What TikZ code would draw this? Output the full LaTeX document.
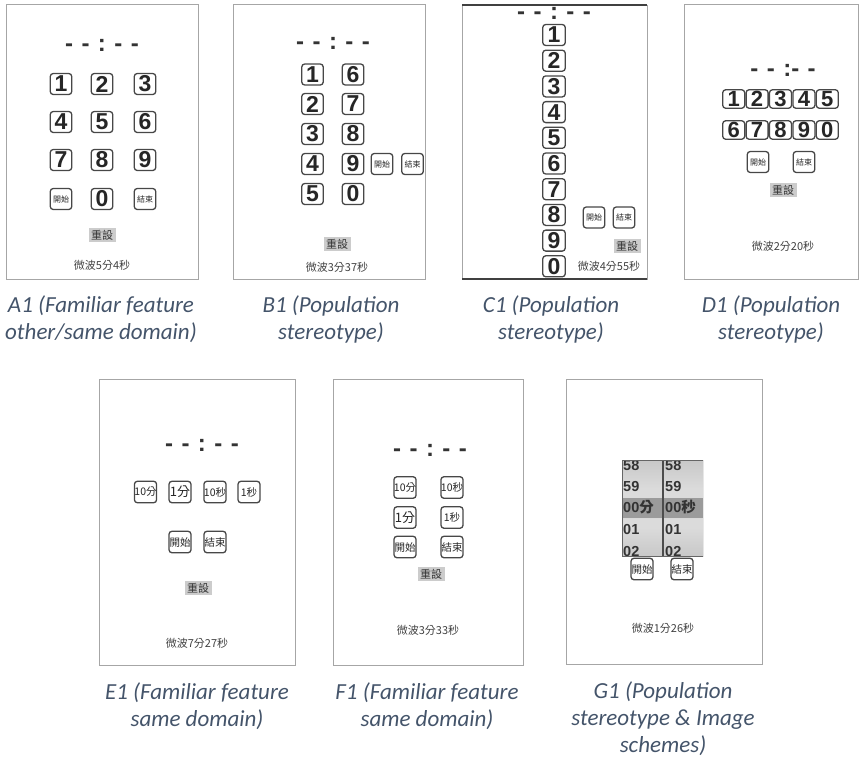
\documentclass[tikz,border=0pt]{standalone}
\usepackage{fontspec}
\setmainfont{Carlito}
\newfontfamily\keyfont{Liberation Sans}
\newfontfamily\cjkfont{Noto Sans CJK TC}
\usetikzlibrary{positioning}
\definecolor{capslate}{HTML}{44546A}
\definecolor{keyedge}{HTML}{474747}
\definecolor{framegray}{HTML}{A6A6A6}
\newcommand\clockgap{\hspace{8.5pt}}
\pgfdeclareverticalshading{drumshade}{100bp}{color(0bp)=(black!78); color(12bp)=(black!28); color(40bp)=(black!14); color(60bp)=(black!14); color(88bp)=(black!28); color(100bp)=(black!78)}

\begin{document}
\begin{tikzpicture}[x=1pt, y=-1pt, panelframe/.style={draw=framegray, line width=0.8pt}, numkey/.style={draw=keyedge, fill=white, line width=1.3pt, rounded corners=3pt, minimum width=21.5pt, minimum height=21pt, inner sep=0pt, text=black!85, font=\keyfont\bfseries\fontsize{23}{23}\selectfont}, slimkey/.style={numkey, minimum width=22pt, minimum height=18.5pt, font=\keyfont\bfseries\fontsize{22}{22}\selectfont}, cjkkey/.style={numkey, font=\cjkfont\fontsize{8}{8}\selectfont}, timekey/.style={numkey, minimum width=22pt, minimum height=21.5pt, font=\cjkfont\fontsize{10.5}{10.5}\selectfont}, resetbox/.style={fill=black!20, inner xsep=2.5pt, inner ysep=2pt, text=black!80, font=\cjkfont\fontsize{11}{11}\selectfont}, statustext/.style={text=black!75, font=\cjkfont\fontsize{11}{11}\selectfont}, clockface/.style={text=black!80, font=\keyfont\bfseries\fontsize{24}{24}\selectfont}, drumtext/.style={anchor=west, inner sep=1pt, text=black!80, font=\keyfont\bfseries\fontsize{14.5}{14.5}\selectfont}, captiontext/.style={align=center, text=capslate, font=\itshape\fontsize{23}{27}\selectfont}]
\useasboundingbox (0,0) rectangle (866,761);
\draw[panelframe] (6,4) rectangle (198,279);
\draw[panelframe] (233,4) rectangle (425,279);
\draw[panelframe] (462,5) rectangle (647,279);\draw[black!75, line width=1.5pt] (462,5) -- (647,5) (462,279) -- (647,279);
\draw[panelframe] (684,4) rectangle (858,279);
\draw[panelframe] (99,379) rectangle (295,665);
\draw[panelframe] (333,379) rectangle (523,665);
\draw[panelframe] (566,379) rectangle (762,664);
\node[clockface] (a1clock) at (102,45) {-\clockgap-\clockgap:\clockgap-\clockgap-};
\foreach \x/\y/\d in {61/84/1, 102/84/2, 145/84/3, 61/122/4, 102/122/5, 145/122/6, 61/160/7, 102/160/8, 145/160/9, 102/199/0}{\node[numkey] (a1k\d) at (\x,\y) {\d};}
\node[cjkkey] (a1start) at (61,199) {開始};\node[cjkkey] (a1stop) at (145,199) {結束};
\node[resetbox] (a1reset) at (102,235) {重設};
\node[statustext] (a1status) at (102,265) {微波5分4秒};
\node[clockface] (b1clock) at (333,43) {-\clockgap-\clockgap:\clockgap-\clockgap-};
\foreach \y/\l/\r in {74.5/1/6, 104/2/7, 134/3/8, 164/4/9, 194/5/0}{\node[numkey] (b1k\l) at (312.5,\y) {\l};\node[numkey] (b1k\r) at (353,\y) {\r};}
\node[cjkkey] (b1start) at (382,164) {開始};\node[cjkkey] (b1stop) at (412.5,164) {結束};
\node[resetbox] (b1reset) at (337,244) {重設};
\node[statustext] (b1status) at (337,267) {微波3分37秒};
\node[clockface] (c1clock) at (554,13) {-\clockgap-\clockgap:\clockgap-\clockgap-};
\foreach \d [count=\i from 0] in {1,2,3,4,5,6,7,8,9,0}{\node[numkey, minimum width=22.5pt] (c1k\d) at (554,35+25.7*\i) {\d};}
\node[cjkkey] (c1start) at (594,217.5) {開始};\node[cjkkey] (c1stop) at (624,217.5) {結束};
\node[resetbox] (c1reset) at (627,246) {重設};
\node[statustext] (c1status) at (609,266) {微波4分55秒};
\node[clockface] (d1clock) at (783,70) {-\clockgap-\clockgap:-\clockgap-};
\foreach \x/\t/\b in {733.7/1/6, 757.1/2/7, 780.5/3/8, 803.9/4/9, 827.3/5/0}{\node[slimkey] (d1k\t) at (\x,99) {\t};\node[slimkey] (d1k\b) at (\x,130) {\b};}
\node[cjkkey] (d1start) at (758,162) {開始};\node[cjkkey] (d1stop) at (804,162) {結束};
\node[resetbox] (d1reset) at (783,190) {重設};
\node[statustext] (d1status) at (783,246) {微波2分20秒};
\node[clockface] (e1clock) at (202,445) {-\clockgap-\clockgap:\clockgap-\clockgap-};
\node[timekey] (e1tenmin) at (145.5,492) {10分};\node[timekey, font=\cjkfont\fontsize{13}{13}\selectfont] (e1onemin) at (180,492) {1分};
\node[timekey] (e1tensec) at (215,492) {10秒};\node[timekey] (e1onesec) at (249,492) {1秒};
\node[timekey] (e1start) at (180,542) {開始};\node[timekey] (e1stop) at (215,542) {結束};
\node[resetbox] (e1reset) at (198,588) {重設};
\node[statustext] (e1status) at (197,643) {微波7分27秒};
\node[clockface] (f1clock) at (430,450) {-\clockgap-\clockgap:\clockgap-\clockgap-};
\node[timekey] (f1tenmin) at (405,487.5) {10分};\node[timekey] (f1tensec) at (452,487.5) {10秒};
\node[timekey, font=\cjkfont\fontsize{13}{13}\selectfont] (f1onemin) at (405,517.5) {1分};\node[timekey] (f1onesec) at (452,517.5) {1秒};
\node[timekey] (f1start) at (405,547) {開始};\node[timekey] (f1stop) at (452,547) {結束};
\node[resetbox] (f1reset) at (431,574) {重設};
\node[statustext] (f1status) at (428,630) {微波3分33秒};
\node[timekey] (g1start) at (642,569) {開始};\node[timekey] (g1stop) at (682,569) {結束};
\begin{scope}
\clip (622,460) rectangle (703,556);
\shade[shading=drumshade] (622,460) rectangle (703,556);
\fill[black!50, opacity=0.7] (622,498) rectangle (703,518);\draw[white!85!black, line width=1pt] (622,518.5) -- (703,518.5);
\foreach \y/\l/\r [count=\i] in {465/58/58, 486/59/59, 507/00{\cjkfont 分}/00{\cjkfont 秒}, 529/01/01, 551/02/02}{\node[drumtext] (g1min\i) at (622,\y) {\l};\node[drumtext] (g1sec\i) at (664,\y) {\r};}
\draw[black!70, line width=1.2pt] (663,460) -- (663,556);\draw[black!60, line width=0.8pt] (622,460) rectangle (703,556);
\end{scope}
\node[statustext] (g1status) at (663,628) {微波1分26秒};
\node[captiontext] (a1cap) at (101,319) {A1 (Familiar feature\\other/same domain)};
\node[captiontext] (b1cap) at (331,319) {B1 (Population\\stereotype)};
\node[captiontext] (c1cap) at (551,319) {C1 (Population\\stereotype)};
\node[captiontext] (d1cap) at (771,319) {D1 (Population\\stereotype)};
\node[captiontext] (e1cap) at (197,706) {E1 (Familiar feature\\same domain)};
\node[captiontext] (f1cap) at (427,706) {F1 (Familiar feature\\same domain)};
\node[captiontext] (g1cap) at (663,719) {G1 (Population\\stereotype \& Image\\schemes)};
\end{tikzpicture}
\end{document}
